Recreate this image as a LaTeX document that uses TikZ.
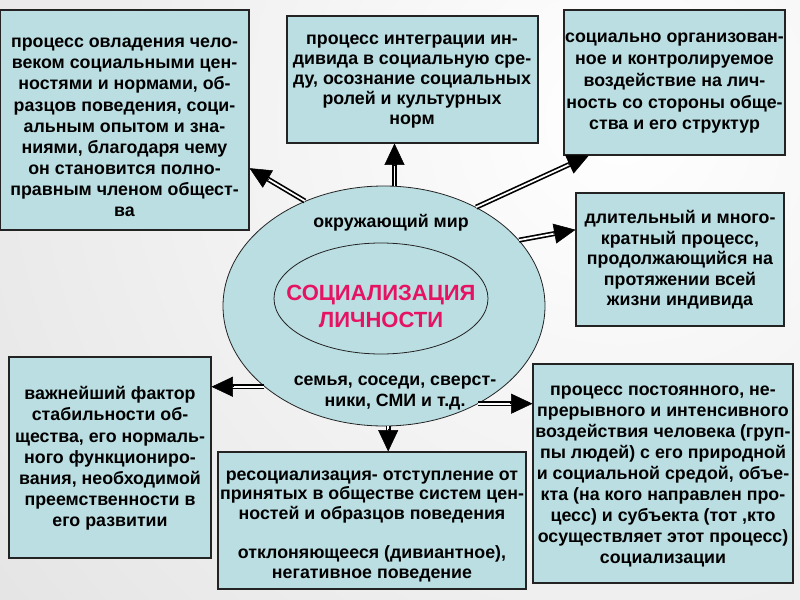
\documentclass[tikz,border=0pt]{standalone}
\usepackage{fontspec}
\setmainfont{Liberation Sans}
\usetikzlibrary{shapes.geometric,arrows.meta,calc}
\definecolor{boxfill}{RGB}{187,222,226}
\definecolor{titlecol}{RGB}{230,18,98}
\definecolor{edgecol}{RGB}{35,35,35}
\newcommand\dblarrow[2]{%
  \draw[shaft] (#1) -- (#2);
  \draw[headtip] ($(#2)!17pt!(#1)$) -- (#2);}
\tikzset{
  box/.style={draw=edgecol, line width=0.8pt, fill=boxfill, rectangle, inner sep=0pt},
  boxtxt/.style={font=\bfseries\fontsize{13.35pt}{15.4pt}\selectfont, align=center, inner sep=0pt, text=black},
  shaft/.style={draw=black, line width=1.25pt, double=white, double distance=1.3pt, shorten >=15pt},
  headtip/.style={-{Triangle[length=16pt,width=15pt]}, line width=0.4pt, draw=black, fill=black},
  oval/.style={ellipse, draw=edgecol, line width=0.6pt, fill=boxfill, inner sep=0pt},
}
\begin{document}
\begin{tikzpicture}[x=0.75pt,y=-0.75pt]
\useasboundingbox (0,0) rectangle (800,600);
\begin{scope}
  \clip (0,0) rectangle (800,600);
  \shade[inner color=white, outer color=black!21] (620,120) circle (1600);
\end{scope}

% central ellipses
\node[oval, minimum width=241.5pt, minimum height=180pt] (outer) at (384,306) {};
\node[oval, minimum width=160.5pt, minimum height=83.25pt] (inner) at (381,298.5) {};
\node[font=\bfseries\fontsize{16.5pt}{20.25pt}\selectfont, text=titlecol, align=center, inner sep=0pt] (title) at (381,306.5) {СОЦИАЛИЗАЦИЯ\\ЛИЧНОСТИ};
\node[boxtxt, anchor=base] (world) at (391,227) {окружающий мир};
\node[boxtxt] (family) at (395,393) {семья, соседи, сверст-\\ники, СМИ и т.д.};

% boxes
\node[box, minimum width=186.75pt, minimum height=165pt] (b1) at (124.5,120) {};
\node[box, minimum width=188.25pt, minimum height=95.25pt] (b2) at (412.5,79.5) {};
\node[box, minimum width=165.75pt, minimum height=108.75pt] (b3) at (674.5,82.5) {};
\node[box, minimum width=156pt, minimum height=99.75pt] (b4) at (680,259.5) {};
\node[box, minimum width=151.5pt, minimum height=150.75pt] (b5) at (110,457.5) {};
\node[box, minimum width=231pt, minimum height=102.75pt] (b6) at (372,520.5) {};
\node[box, minimum width=195pt, minimum height=164.25pt] (b7) at (663,473.5) {};

% box texts
\node[boxtxt, font=\bfseries\fontsize{13.35pt}{15.85pt}\selectfont] (t1) at (124.5,127.5) {процесс овладения чело-\\веком социальными цен-\\ностями и нормами, об-\\разцов поведения, соци-\\альным опытом и зна-\\ниями, благодаря чему\\он становится полно-\\правным членом общест-\\ва};
\node[boxtxt, font=\bfseries\fontsize{13.35pt}{15pt}\selectfont] (t2) at (412,82) {процесс интеграции ин-\\дивида в социальную сре-\\ду, осознание социальных\\ролей и культурных\\норм};
\node[boxtxt, font=\bfseries\fontsize{13.35pt}{16.3pt}\selectfont] (t3) at (674.5,83.5) {социально организован-\\ное и контролируемое\\воздействие на лич-\\ность со стороны обще-\\ства и его структур};
\node[boxtxt] (t4) at (680,260) {длительный и много-\\кратный процесс,\\продолжающийся на\\протяжении всей\\жизни индивида};
\node[boxtxt, font=\bfseries\fontsize{13.35pt}{15.9pt}\selectfont] (t5) at (110,458.5) {важнейший фактор\\стабильности об-\\щества, его нормаль-\\ного функциониро-\\вания,  необходимой\\преемственности в\\его развитии};
\node[boxtxt, font=\bfseries\fontsize{13.35pt}{14.7pt}\selectfont] (t6) at (372,526) {ресоциализация- отступление от\\принятых в обществе систем цен-\\ностей и образцов поведения\\[14.7pt]отклоняющееся (дивиантное),\\негативное поведение};
\node[boxtxt, font=\bfseries\fontsize{13.35pt}{15.7pt}\selectfont] (t7) at (663,476.5) {процесс постоянного, не-\\прерывного и интенсивного\\воздействия человека (груп-\\пы людей) с его природной\\и социальной средой, объе-\\кта (на кого направлен про-\\цесс) и субъекта (тот ,кто\\осуществляет этот процесс)\\социализации};

% arrow end points
\coordinate (a1s) at (outer.127);
\coordinate (a1e) at ($(b1.north east)!0.718!(b1.south east)$);
\coordinate (a2s) at (outer.85);
\coordinate (a2e) at (b2.south -| a2s);
\coordinate (a3s) at (outer.47.6);
\coordinate (a3e) at ($(b3.south west)!0.114!(b3.south east)$);
\coordinate (a4s) at (outer.26.9);
\coordinate (a4e) at ($(b4.north west)!0.278!(b4.south west)$);
\coordinate (a5s) at (outer.214.7);
\coordinate (a5e) at (b5.east |- a5s);
\coordinate (a6s) at (outer.272);
\coordinate (a6e) at (b6.north -| a6s);
\coordinate (a7s) at (outer.314);
\coordinate (a7e) at (b7.west |- a7s);

\dblarrow{a1s}{a1e}
\dblarrow{a2s}{a2e}
\dblarrow{a3s}{a3e}
\dblarrow{a4s}{a4e}
\dblarrow{a5s}{a5e}
\dblarrow{a6s}{a6e}
\dblarrow{a7s}{a7e}
\end{tikzpicture}
\end{document}
